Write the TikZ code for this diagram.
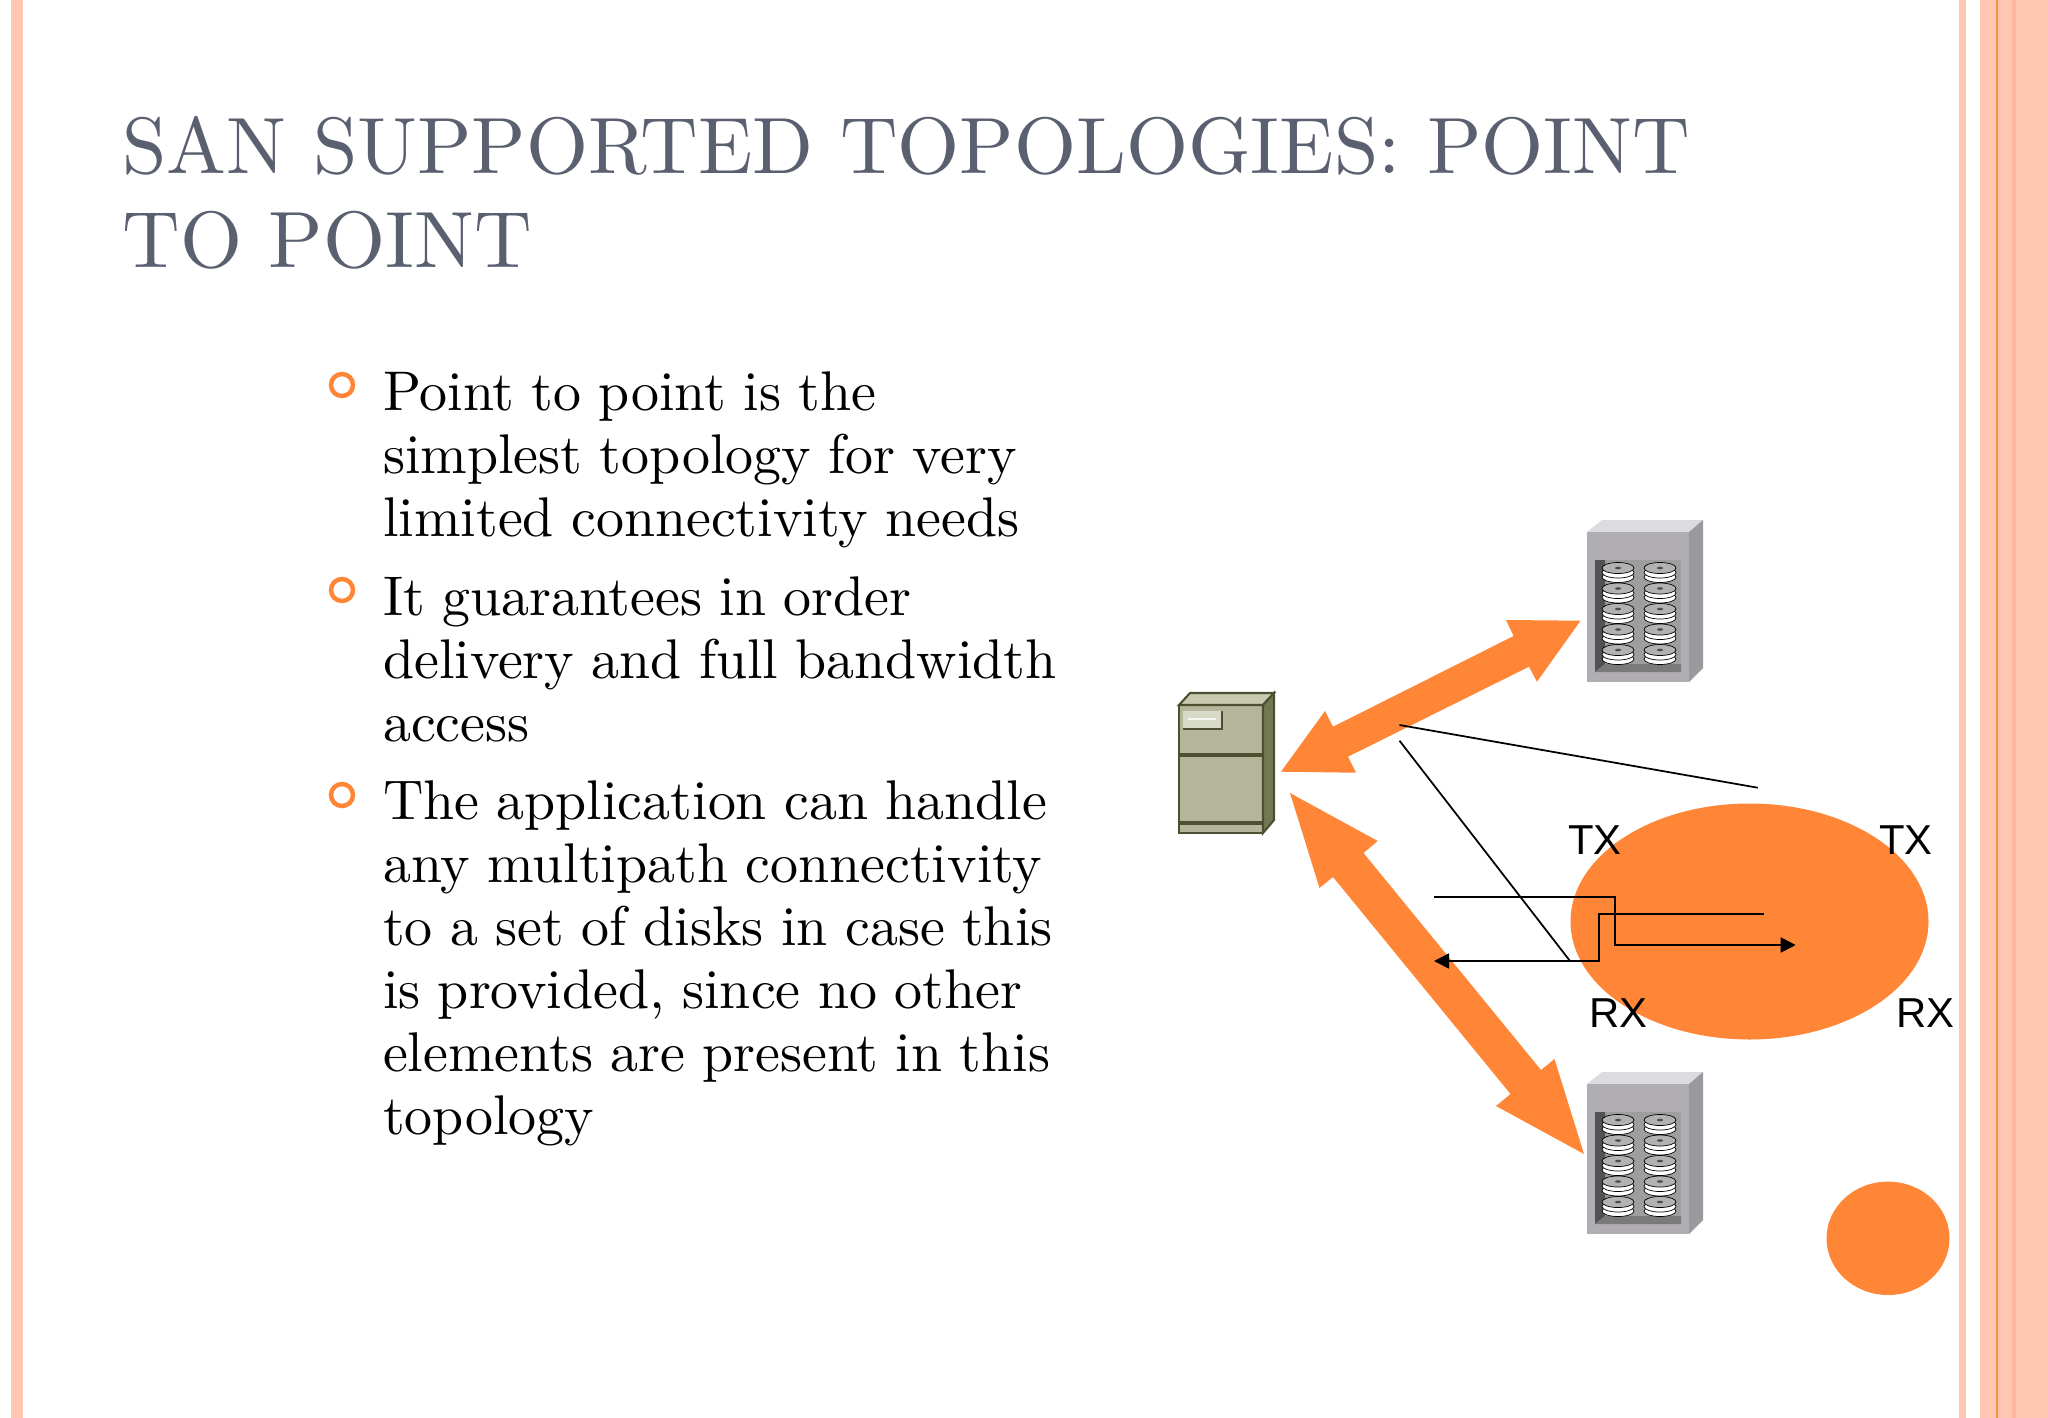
\documentclass[tikz,border=0pt]{standalone}
\usepackage{fontspec}
\usepackage{xcolor}
\usetikzlibrary{arrows.meta}
\newfontfamily\labelfont{Liberation Sans}
\definecolor{stripe}{HTML}{FFC6B2}
\definecolor{stripedark}{HTML}{FFB89F}
\definecolor{accent}{HTML}{FF8636}
\definecolor{titlegray}{HTML}{5A6070}
\definecolor{cabfront}{HTML}{B5B59B}
\definecolor{cabtop}{HTML}{C8CAB0}
\definecolor{cabside}{HTML}{737752}
\definecolor{cabline}{HTML}{4D5030}
\definecolor{rackfront}{HTML}{B0AEB2}
\definecolor{racktop}{HTML}{DCDBDF}
\definecolor{rackside}{HTML}{9A999E}
\newcommand{\itemfont}{\fontsize{10}{11.26}\selectfont\spaceskip 0.31em\relax}
\tikzset{
    title text/.style={anchor=base west, inner sep=0pt, text=titlegray, scale=2.27, font=\fontsize{10}{12}\selectfont},
    body text/.style={anchor=base west, inner sep=0pt, align=left, text=black, scale=1.59, font=\itemfont},
    ring/.style={draw=accent, line width=1.28pt, fill=white},
    port text/.style={inner sep=0pt, font=\labelfont\fontsize{11.9}{12}\selectfont},
    wire/.style={black, line width=0.5pt},
    disk/.style={draw=black, line width=0.2pt, fill=#1},
    big arrow/.style={fill=accent}
}
\begin{document}
\begin{tikzpicture}[x=0.01cm, y=-0.01cm]
    \useasboundingbox (0,0) rectangle (2048,1418);
    \fill [stripe] (11,0) rectangle (23,1418);
    \fill [stripe] (1959,0) rectangle (1966,1418);
    \fill [stripe] (1980,0) rectangle (2048,1418);
    \fill [stripedark] (2012,0) rectangle (2016,1418);
    \fill [accent!85!stripe] (1996,0) rectangle (1998,1418);

    \node [title text] (title1) at (121,173) {SAN SUPPORTED TOPOLOGIES: POINT};
    \node [title text] (title2) at (121,267) {TO POINT};

    \filldraw [ring] (342,385) circle (11);
    \filldraw [ring] (342,590) circle (11);
    \filldraw [ring] (342,795) circle (11);
    \node [body text] (item1) at (382,536) {Point to point is the\\simplest topology for very\\limited connectivity needs};
    \node [body text] (item2) at (382,741) {It guarantees in order\\delivery and full bandwidth\\access};
    \node [body text] (item3) at (382,1134) {The application can handle\\any multipath connectivity\\to a set of disks in case this\\is provided, since no other\\elements are present in this\\topology};

    \filldraw [draw=cabline, fill=cabfront, line width=0.7pt] (1179,705) rectangle (1263,833);
    \filldraw [draw=cabline, fill=cabtop, line width=0.6pt] (1179,705) -- (1190,693) -- (1274,693) -- (1263,705) -- cycle;
    \filldraw [draw=cabline, fill=cabside, line width=0.6pt] (1263,705) -- (1274,693) -- (1274,820) -- (1263,833) -- cycle;
    \draw [cabline, line width=0.9pt] (1179,755) to (1263,755);
    \draw [cabline, line width=0.9pt] (1179,823) to (1263,823);
    \fill [cabtop!70!white] (1183,711) rectangle (1222,729);
    \draw [cabline, line width=0.5pt] (1183,729) -- (1222,729) -- (1222,711);
    \draw [white!85!cabtop, line width=0.6pt] (1188,719) to (1216,719);

    \foreach \dy in {0,552} {
        \fill [racktop] (1587,532+\dy) -- (1602,520+\dy) -- (1703,520+\dy) -- (1689,532+\dy) -- cycle;
        \fill [rackfront] (1587,532+\dy) rectangle (1689,682+\dy);
        \fill [rackside] (1689,532+\dy) -- (1703,520+\dy) -- (1703,668+\dy) -- (1689,682+\dy) -- cycle;
        \fill [black!38] (1595,560+\dy) rectangle (1681,672+\dy);
        \fill [black!68] (1595,560+\dy) -- (1605,560+\dy) -- (1605,664+\dy) -- (1595,672+\dy) -- cycle;
        \fill [black!52] (1595,672+\dy) -- (1605,664+\dy) -- (1681,664+\dy) -- (1681,672+\dy) -- cycle;
        \foreach \dx in {1618,1660} {
            \foreach \row in {568,588.5,609,629.5,650} {
                \filldraw [disk=white] (\dx,\row+9+\dy) ellipse (16 and 5.5);
                \filldraw [disk=white] (\dx,\row+4.5+\dy) ellipse (16 and 5.5);
                \filldraw [disk=black!30] (\dx,\row+\dy) ellipse (16 and 5.5);
                \fill [black!70] (\dx,\row+\dy) ellipse (3 and 1.3);
            }
        }
    }

    \fill [big arrow] (1580.5,620.7) -- (1506,620) -- (1513.6,636) -- (1333,726.7) -- (1325,711) -- (1281,771.7) -- (1356,772.7) -- (1348,756.7) -- (1529,666.7) -- (1537,681.7) -- cycle;
    \fill [big arrow] (1290,793) -- (1319.5,888) -- (1333,877) -- (1510.5,1094) -- (1496,1106) -- (1584,1154) -- (1554.5,1059) -- (1541,1070) -- (1363.5,853) -- (1377.7,841) -- cycle;

    \fill [accent] (1749.5,921.5) ellipse (179 and 118);
    \fill [accent] (1888,1238.3) ellipse (61.5 and 56.7);

    \coordinate (upperstart) at (1399.5,725);
    \coordinate (upperend) at (1757.7,787.7);
    \coordinate (lowerstart) at (1399.5,740.7);
    \coordinate (lowerend) at (1570,961);
    \coordinate (txstart) at (1434,897.3);
    \coordinate (txend) at (1795.7,945);
    \coordinate (rxstart) at (1764,913.7);
    \coordinate (rxend) at (1434,961);
    \draw [wire] (upperstart) to (upperend);
    \draw [wire] (lowerstart) to (lowerend);
    \draw [wire, -{Triangle[length=15*0.2845pt, width=15*0.2845pt]}] (txstart) -- (1615,897.3) -- (1615,945) -- (txend);
    \draw [wire, -{Triangle[length=15*0.2845pt, width=15*0.2845pt]}] (rxstart) -- (1599,913.7) -- (1599,961) -- (rxend);

    \node [port text] (txleft) at (1595,840) {TX};
    \node [port text] (txright) at (1906,840) {TX};
    \node [port text] (rxleft) at (1618.5,1013) {RX};
    \node [port text] (rxright) at (1925.5,1013) {RX};
\end{tikzpicture}
\end{document}
